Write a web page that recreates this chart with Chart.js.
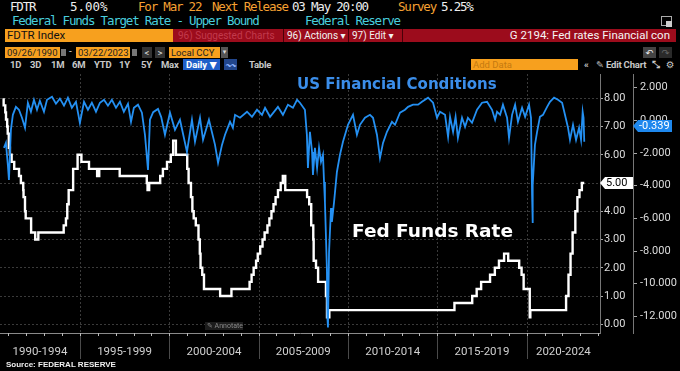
<!DOCTYPE html>
<html>
<head>
<meta charset="utf-8">
<script src="https://cdn.jsdelivr.net/npm/chart.js@4.4.0/dist/chart.umd.min.js"></script>
<style>
  html, body { margin: 0; padding: 0; background: #000; }
  #wrap { position: relative; width: 680px; height: 371px; overflow: hidden; background: #000; font-family: Roboto, "DejaVu Sans", sans-serif; }
  .t { position: absolute; white-space: nowrap; line-height: 1; }
  .mono { font-family: "DejaVu Sans Mono", monospace; font-size: 12.5px; letter-spacing: -1.2px; }
  .w { color: #eeeeee; }
  .o { color: #f5a032; }
  .c { color: #48cedd; }
  .bar { position: absolute; }
  .ui { font-size: 9.5px; color: #c8c8c8; font-weight: bold; letter-spacing: -0.2px; }
  .box { position: absolute; font-size: 9.5px; line-height: 11px; white-space: nowrap; }
  canvas { position: absolute; left: 0; top: 72px; }
</style>
</head>
<body>
<div id="wrap">
  <!-- header row 1 -->
  <div class="t mono w" style="left:10px;top:1px">FDTR</div>
  <div class="t mono w" style="left:70px;top:1px;letter-spacing:0">5.00%</div>
  <div class="t mono o" style="left:138px;top:1px">For Mar 22</div>
  <div class="t mono o" style="left:212px;top:1px">Next Release</div>
  <div class="t mono w" style="left:292px;top:1px">03 May 20:00</div>
  <div class="t mono o" style="left:398px;top:1px">Survey</div>
  <div class="t mono w" style="left:441px;top:1px">5.25%</div>
  <!-- header row 2 -->
  <div class="t mono c" style="left:12px;top:15px">Federal Funds Target Rate - Upper Bound</div>
  <div class="t mono c" style="left:305px;top:15px">Federal Reserve</div>
  <div class="bar" style="left:661px;top:16px;width:9px;height:8px;border:1px solid #aaa;"></div>
  <div class="bar" style="left:666px;top:21px;width:6px;height:6px;background:#ccc;"></div>

  <!-- row 3 -->
  <div class="bar" style="left:5px;top:29px;width:168px;height:13px;background:#f7a01e;"></div>
  <div class="t" style="left:7px;top:30px;font-size:11.5px;color:#111">FDTR Index</div>
  <div class="bar" style="left:173px;top:29px;width:503px;height:13px;background:#9c0c1c;"></div>
  <div class="t" style="left:178px;top:31px;font-size:10px;color:#c23a4c">96) Suggested Charts</div>
  <div class="bar" style="left:283px;top:29px;width:1px;height:13px;background:#4a0008;"></div>
  <div class="t" style="left:287px;top:31px;font-size:10px;color:#f2f2f2">96) Actions ▾</div>
  <div class="bar" style="left:348px;top:29px;width:1px;height:13px;background:#4a0008;"></div>
  <div class="t" style="left:352px;top:31px;font-size:10px;color:#f2f2f2">97) Edit ▾</div>
  <div class="bar" style="left:402px;top:29px;width:1px;height:13px;background:#4a0008;"></div>
  <div class="t" style="right:10px;top:30px;font-size:11.5px;color:#f5f5f5">G 2194: Fed rates Financial con</div>

  <!-- row 4 -->
  <div class="box" style="left:5px;top:47px;width:53px;height:11px;background:#f7a01e;color:#222;padding-left:2px">09/26/1990</div>
  <div class="bar" style="left:61px;top:49px;width:5px;height:7px;background:#777;"></div>
  <div class="t" style="left:69px;top:47px;font-size:10px;color:#ccc">-</div>
  <div class="box" style="left:76px;top:47px;width:52px;height:11px;background:#f7a01e;color:#222;padding-left:2px">03/22/2023</div>
  <div class="bar" style="left:132px;top:49px;width:5px;height:7px;background:#777;"></div>
  <div class="box" style="left:142px;top:47px;width:10px;height:11px;background:#333;color:#ddd;text-align:center">&lt;</div>
  <div class="box" style="left:155px;top:47px;width:10px;height:11px;background:#333;color:#ddd;text-align:center">&gt;</div>
  <div class="box" style="left:169px;top:47px;width:49px;height:11px;background:#f7a01e;color:#222;padding-left:2px">Local CCY</div>
  <div class="box" style="left:221px;top:47px;width:7px;height:11px;background:#555;color:#ddd;text-align:center;font-size:7px">▾</div>
  <div class="box" style="left:643px;top:47px;width:13px;height:11px;background:#444;color:#eee;text-align:center">↶</div>
  <div class="box" style="left:659px;top:47px;width:13px;height:11px;background:#2a2a2a;color:#666;text-align:center">↷</div>

  <!-- row 5 -->
  <div class="t ui" style="left:10px;top:60px">1D</div>
  <div class="t ui" style="left:30px;top:60px">3D</div>
  <div class="t ui" style="left:51px;top:60px">1M</div>
  <div class="t ui" style="left:72px;top:60px">6M</div>
  <div class="t ui" style="left:94px;top:60px">YTD</div>
  <div class="t ui" style="left:119px;top:60px">1Y</div>
  <div class="t ui" style="left:141px;top:60px">5Y</div>
  <div class="t ui" style="left:161px;top:60px">Max</div>
  <div class="box" style="left:183px;top:59px;width:34px;height:11px;background:#1f5fc9;color:#fff;padding-left:3px;font-weight:bold">Daily ▼</div>
  <div class="box" style="left:224px;top:59px;width:13px;height:11px;background:#22468c;color:#8fb4ff;text-align:center">〰</div>
  <div class="t ui" style="left:249px;top:60px">Table</div>
  <div class="box" style="left:471px;top:59px;width:105px;height:11px;background:#f7a01e;color:#c57a10;padding-left:2px">Add Data</div>
  <div class="t ui" style="left:584px;top:60px">«</div>
  <div class="t ui" style="left:596px;top:60px">✎ Edit Chart</div>
  <div class="t ui" style="left:652px;top:60px">⤡</div>
  <div class="t ui" style="left:666px;top:60px">⚙</div>

  <canvas id="c" width="680" height="299"></canvas>

  <div class="t" style="left:297px;top:77px;font-family:'DejaVu Sans';font-weight:bold;font-size:15px;color:#3b8eea">US Financial Conditions</div>
  <div class="t" style="left:352px;top:222px;font-family:'DejaVu Sans';font-weight:bold;font-size:18.5px;color:#ffffff">Fed Funds Rate</div>
  <div class="box" style="left:205px;top:322px;width:36px;height:8px;line-height:8px;background:#1c1c1c;color:#8a8a8a;font-size:7px;padding-left:2px">✎ Annotate</div>
  <div class="t" style="left:6px;top:361px;font-family:'Liberation Sans';font-weight:bold;font-size:8px;color:#f0f0f0">Source: FEDERAL RESERVE</div>
</div>

<script>
// Fed funds target rate, upper bound: change dates and new levels
const rateDates = [
  '1990-09-26','1990-10-29','1990-11-13','1990-12-07','1990-12-18',
  '1991-01-09','1991-02-01','1991-03-08','1991-04-30','1991-08-06','1991-09-13','1991-10-31','1991-11-06','1991-12-06','1991-12-20',
  '1992-04-09','1992-07-02','1992-09-04',
  '1994-02-04','1994-03-22','1994-04-18','1994-05-17','1994-08-16','1994-11-15',
  '1995-02-01','1995-07-06','1995-12-19','1996-01-31','1997-03-25',
  '1998-09-29','1998-10-15','1998-11-17','1999-06-30','1999-08-24','1999-11-16',
  '2000-02-02','2000-03-21','2000-05-16',
  '2001-01-03','2001-01-31','2001-03-20','2001-04-18','2001-05-15','2001-06-27','2001-08-21','2001-09-17','2001-10-02','2001-11-06','2001-12-11',
  '2002-11-06','2003-06-25',
  '2004-06-30','2004-08-10','2004-09-21','2004-11-10','2004-12-14',
  '2005-02-02','2005-03-22','2005-05-03','2005-06-30','2005-08-09','2005-09-20','2005-11-01','2005-12-13',
  '2006-01-31','2006-03-28','2006-05-10','2006-06-29',
  '2007-09-18','2007-10-31','2007-12-11',
  '2008-01-22','2008-01-30','2008-03-18','2008-04-30','2008-10-08','2008-10-29','2008-12-16',
  '2015-12-16','2016-12-14','2017-03-15','2017-06-14','2017-12-13',
  '2018-03-21','2018-06-13','2018-09-26','2018-12-19',
  '2019-07-31','2019-09-18','2019-10-30','2020-03-03','2020-03-15',
  '2022-03-16','2022-05-04','2022-06-15','2022-07-27','2022-09-21','2022-11-02','2022-12-14',
  '2023-02-01','2023-03-22'
];
const rateValues = [
  8.00, 7.75, 7.50, 7.25, 7.00,
  6.75, 6.25, 6.00, 5.75, 5.50, 5.25, 5.00, 4.75, 4.50, 4.00,
  3.75, 3.25, 3.00,
  3.25, 3.50, 3.75, 4.25, 4.75, 5.50,
  6.00, 5.75, 5.50, 5.25, 5.50,
  5.25, 5.00, 4.75, 5.00, 5.25, 5.50,
  5.75, 6.00, 6.50,
  6.00, 5.50, 5.00, 4.50, 4.00, 3.75, 3.50, 3.00, 2.50, 2.00, 1.75,
  1.25, 1.00,
  1.25, 1.50, 1.75, 2.00, 2.25,
  2.50, 2.75, 3.00, 3.25, 3.50, 3.75, 4.00, 4.25,
  4.50, 4.75, 5.00, 5.25,
  4.75, 4.50, 4.25,
  3.50, 3.00, 2.25, 2.00, 1.50, 1.00, 0.25,
  0.50, 0.75, 1.00, 1.25, 1.50,
  1.75, 2.00, 2.25, 2.50,
  2.25, 2.00, 1.75, 1.25, 0.25,
  0.50, 1.00, 1.75, 2.50, 3.25, 4.00, 4.50,
  4.75, 5.00
];

// US Financial Conditions index (decimal year, value)
const fciYears = [
  1990.75, 1990.86, 1990.97, 1991.03, 1991.14, 1991.25, 1991.42, 1991.59, 1991.76, 1991.93,
  1992.09, 1992.26, 1992.43, 1992.60, 1992.76, 1992.99, 1993.16, 1993.44, 1993.66, 1993.88,
  1994.11, 1994.33, 1994.55, 1994.78, 1995.00, 1995.23, 1995.45, 1995.67, 1995.90, 1996.12,
  1996.35, 1996.57, 1996.79, 1997.02, 1997.24, 1997.46, 1997.69, 1997.86, 1998.02, 1998.25,
  1998.47, 1998.64, 1998.81, 1998.92, 1999.10, 1999.37, 1999.55, 1999.76, 2000.04, 2000.32,
  2000.60, 2000.99, 2001.27, 2001.44, 2001.72, 2001.89, 2002.22, 2002.56, 2002.73, 2002.95,
  2003.12, 2003.40, 2003.56, 2003.68, 2003.96, 2004.35, 2004.63, 2004.91, 2005.19, 2005.36,
  2005.64, 2006.08, 2006.36, 2006.64, 2006.92, 2007.15, 2007.31, 2007.59, 2007.70, 2007.76,
  2007.87, 2007.99, 2008.04, 2008.15, 2008.27, 2008.38, 2008.49, 2008.60, 2008.66, 2008.71,
  2008.82, 2008.85, 2008.88, 2008.94, 2009.05, 2009.10, 2009.22, 2009.38, 2009.55, 2009.72,
  2010.00, 2010.28, 2010.50, 2010.67, 2010.95, 2011.23, 2011.40, 2011.62, 2011.79, 2011.96,
  2012.18, 2012.46, 2012.63, 2012.91, 2013.19, 2013.36, 2013.64, 2013.92, 2014.14, 2014.48,
  2014.76, 2014.98, 2015.15, 2015.43, 2015.60, 2015.71, 2015.88, 2016.02, 2016.15, 2016.38,
  2016.55, 2016.71, 2016.94, 2017.22, 2017.50, 2017.78, 2018.06, 2018.23, 2018.34, 2018.51,
  2018.67, 2018.90, 2019.01, 2019.18, 2019.35, 2019.51, 2019.74, 2019.91, 2020.13, 2020.24,
  2020.30, 2020.32, 2020.35, 2020.46, 2020.58, 2020.74, 2020.91, 2021.14, 2021.30, 2021.53,
  2021.75, 2021.98, 2022.14, 2022.31, 2022.42, 2022.59, 2022.76, 2022.93, 2023.04, 2023.13,
  2023.18, 2023.22
];
const fciValues = [
  -1.68, -1.38, -2.73, -3.65, -0.58, 0.34, 0.83, 0.65, 0.16, -0.45,
  1.08, 0.53, 1.26, 0.65, 1.20, 0.53, 1.26, 1.45, 1.02, 1.33,
  0.90, 1.39, 0.77, 1.14, -0.15, 1.14, 0.65, 1.08, 0.53, 1.08,
  1.26, 0.90, 1.26, 0.77, 1.14, 0.53, 1.02, -0.09, 0.77, 0.96,
  0.47, -0.88, -3.03, 0.04, 0.50, 0.70, 0.20, -0.88, 0.47, -0.58,
  0.04, -1.93, 0.04, -1.31, 0.16, -1.19, 0.04, -1.50, -2.60, -1.50,
  -0.88, -0.09, -0.45, 0.34, 0.16, 0.53, 0.22, 0.65, 0.34, 0.77,
  0.22, 0.83, 0.34, 0.96, 0.77, 1.26, 1.08, 0.65, -0.88, -2.91,
  -0.70, -1.93, -3.34, -1.68, -2.91, -1.68, -2.54, -2.11, -3.77, -5.00,
  -9.05, -12.10, -12.68, -8.07, -5.37, -6.22, -5.00, -3.16, -2.11, -1.31,
  -0.27, 0.34, -0.88, -0.27, 0.16, 0.34, 0.16, -0.88, -2.30, -1.38,
  -0.70, -0.09, -0.27, 0.47, 0.65, 0.83, 0.96, 0.96, 1.14, 1.39,
  1.08, 0.16, 0.53, 0.34, -1.01, 0.22, -0.70, 0.22, -1.07, 0.16,
  -0.39, 0.16, -0.15, 0.65, 1.08, 1.14, 0.65, 0.04, 0.53, 0.34,
  0.96, 0.16, -1.07, 0.34, 0.96, -0.09, 0.77, 0.22, 0.96, 0.16,
  -4.57, -6.29, -3.95, -1.50, -0.70, 0.22, 0.34, 0.83, 1.14, 1.39,
  1.26, 1.08, 0.34, -0.45, -1.19, -0.27, -1.19, -0.45, -1.19, 0.53,
  0.16, -1.31
];

const xBandStarts = [1990, 1995, 2000, 2005, 2010, 2015, 2020];
const xBandLabels = ['1990-1994', '1995-1999', '2000-2004', '2005-2009', '2010-2014', '2015-2019', '2020-2024'];
const rateTicks = [0, 1, 2, 3, 4, 5, 6, 7, 8];
const fciTicks = [-12, -10, -8, -6, -4, -2, 0, 2];
const rateLast = 5.00;
const fciLast = -0.339;

function toYear(s) {
  const d = new Date(s + 'T00:00:00Z');
  const y = d.getUTCFullYear();
  const a = Date.UTC(y, 0, 1), b = Date.UTC(y + 1, 0, 1);
  return y + (d.getTime() - a) / (b - a);
}

function tag(ctx, x, y, w, text, fill, color) {
  const h = 12;
  ctx.beginPath();
  ctx.moveTo(x, y);
  ctx.lineTo(x + 5, y - h / 2);
  ctx.lineTo(x + w, y - h / 2);
  ctx.lineTo(x + w, y + h / 2);
  ctx.lineTo(x + 5, y + h / 2);
  ctx.closePath();
  ctx.fillStyle = fill;
  ctx.fill();
  ctx.fillStyle = color;
  ctx.font = '11px Roboto';
  ctx.textAlign = 'left';
  ctx.textBaseline = 'middle';
  ctx.fillText(text, x + 6, y + 0.5);
}

// y axes: no extra room for half labels, the plot fills the canvas
function noPad(s) {
  s.paddingTop = 0;
  s.paddingBottom = 0;
}

const decor = {
  id: 'decor',
  beforeDatasetsDraw(chart) {
    const { ctx, chartArea: a, scales: { x } } = chart;
    ctx.save();
    ctx.lineWidth = 1;
    // 5-year separators
    xBandStarts.forEach(s => {
      if (s <= x.min) return;
      const px = Math.round(x.getPixelForValue(s)) + 0.5;
      ctx.strokeStyle = '#3a3a3a';
      ctx.setLineDash([2, 2]);
      ctx.beginPath(); ctx.moveTo(px, a.top); ctx.lineTo(px, a.bottom); ctx.stroke();
      ctx.setLineDash([]);
      ctx.strokeStyle = '#4a4a4a';
      ctx.beginPath(); ctx.moveTo(px, a.bottom); ctx.lineTo(px, a.bottom + 26); ctx.stroke();
    });
    // yearly minor ticks
    ctx.strokeStyle = '#bbbbbb';
    for (let yr = Math.ceil(x.min); yr <= x.max; yr++) {
      const px = Math.round(x.getPixelForValue(yr)) + 0.5;
      ctx.beginPath(); ctx.moveTo(px, a.bottom); ctx.lineTo(px, a.bottom + 3); ctx.stroke();
    }
    ctx.restore();
  },
  afterDraw(chart) {
    const { ctx, scales: { yRate, yFci } } = chart;
    ctx.save();
    tag(ctx, yRate.left, yRate.getPixelForValue(rateLast), 33, rateLast.toFixed(2), '#ffffff', '#000000');
    tag(ctx, yFci.left, yFci.getPixelForValue(fciLast), 39, fciLast.toFixed(3), '#1e88ee', '#ffffff');
    ctx.restore();
  }
};

new Chart(document.getElementById('c'), {
  type: 'line',
  data: {
    datasets: [
      {
        label: 'US Financial Conditions',
        data: fciYears.map((x, i) => ({ x, y: fciValues[i] })),
        yAxisID: 'yFci',
        borderColor: '#2490f2',
        borderWidth: 1.8,
        pointRadius: 0,
        tension: 0
      },
      {
        label: 'Fed Funds Rate',
        data: rateDates.map((d, i) => ({ x: toYear(d), y: rateValues[i] })),
        yAxisID: 'yRate',
        borderColor: '#ffffff',
        borderWidth: 2.4,
        pointRadius: 0,
        stepped: 'after'
      }
    ]
  },
  options: {
    responsive: false,
    animation: false,
    layout: { padding: { top: 2, left: 0, right: 0, bottom: 0 } },
    plugins: { legend: { display: false }, tooltip: { enabled: false } },
    scales: {
      x: {
        type: 'linear',
        min: 1990.53,
        max: 2024.1,
        grid: { display: false, drawTicks: false },
        border: { display: true, color: '#8a8a8a' },
        afterBuildTicks: s => {
          s.ticks = xBandStarts.map(b => ({ value: (Math.max(b, s.min) + Math.min(b + 5, s.max)) / 2 }));
        },
        afterFit: s => { s.height = 38; s.paddingLeft = 0; s.paddingRight = 0; },
        ticks: {
          autoSkip: false,
          maxRotation: 0,
          padding: 12,
          color: '#d0d0d0',
          font: { family: 'Roboto', size: 11.5 },
          callback: (v, i) => xBandLabels[i]
        }
      },
      yRate: {
        type: 'linear',
        position: 'right',
        weight: 0,
        min: -0.31,
        max: 8.86,
        afterBuildTicks: s => { s.ticks = rateTicks.map(v => ({ value: v })); },
        afterFit: s => { s.width = 33; noPad(s); },
        grid: { color: '#3a3a3a', drawTicks: true, tickLength: 3, tickColor: '#aaaaaa' },
        border: { display: true, color: '#777777', dash: [2, 2] },
        ticks: {
          padding: 1,
          color: '#dddddd',
          font: { family: 'Roboto', size: 11 },
          callback: v => v.toFixed(2)
        }
      },
      yFci: {
        type: 'linear',
        position: 'right',
        weight: 1,
        min: -13.02,
        max: 2.84,
        afterBuildTicks: s => { s.ticks = fciTicks.map(v => ({ value: v })); },
        afterFit: s => { s.width = 47; noPad(s); },
        grid: { drawOnChartArea: false, drawTicks: true, tickLength: 4, tickColor: '#aaaaaa' },
        border: { display: true, color: '#777777' },
        ticks: {
          padding: 3,
          color: '#dddddd',
          font: { family: 'Roboto', size: 11 },
          callback: v => v.toFixed(3)
        }
      }
    }
  },
  plugins: [decor]
});
</script>
</body>
</html>
